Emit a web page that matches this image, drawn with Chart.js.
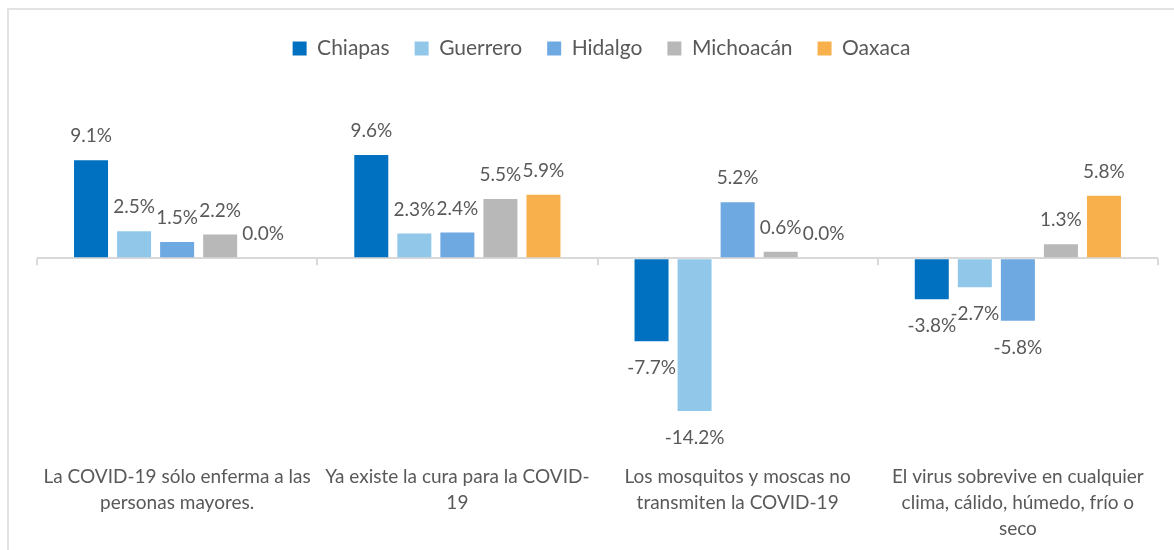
<!DOCTYPE html>
<html>
<head>
<meta charset="utf-8">
<script src="https://cdn.jsdelivr.net/npm/chart.js@4.4.0/dist/chart.umd.min.js"></script>
<style>
  body { margin: 0; overflow: hidden; background: #fff; }
  #frame { position: absolute; left: 7px; top: 8px; width: 1300px; height: 700px; border: 2px solid #e3e3e3; }
  #wrap { position: absolute; left: 0; top: 0; width: 1174px; height: 550px; }
</style>
</head>
<body>
<div id="frame"></div>
<div id="wrap"><canvas id="myChart" width="1174" height="550"></canvas></div>
<script>
var categories = [
    ["La COVID-19 sólo enferma a las", "personas mayores."],
    ["Ya existe la cura para la COVID-", "19"],
    ["Los mosquitos y moscas no", "transmiten la COVID-19"],
    ["El virus sobrevive en cualquier", "clima, cálido, húmedo, frío o", "seco"]
];
var states = ["Chiapas", "Guerrero", "Hidalgo", "Michoacán", "Oaxaca"];
var colors = ['#0070C0', '#91C8EA', '#6EA9E2', '#B8B8B8', '#F8B04D'];

var chiapas   = [9.1, 9.6, -7.7, -3.8];
var guerrero  = [2.5, 2.3, -14.2, -2.7];
var hidalgo   = [1.5, 2.4, 5.2, -5.8];
var michoacan = [2.2, 5.5, 0.6, 1.3];
var oaxaca    = [0.0, 5.9, 0.0, 5.8];

var values = [chiapas, guerrero, hidalgo, michoacan, oaxaca];

var datasets = states.map(function(name, i){
    return {
        label: name,
        data: values[i],
        backgroundColor: colors[i],
        categoryPercentage: 0.768,
        barPercentage: 0.79
    };
});

// labels on the bars + little ticks on the zero line
var barLabels = {
    id: 'barLabels',
    beforeInit: function(chart){
        var fit = chart.legend.fit;
        chart.legend.fit = function(){
            fit.call(chart.legend);
            this.height = 86;
        };
    },
    afterLayout: function(chart){
        chart.legend.top += 13;
        chart.legend.bottom += 13;
        chart.legend.left += 4;
        chart.legend.right += 4;
    },
    afterDatasetsDraw: function(chart){
        var ctx = chart.ctx;
        var xs = chart.scales.x, ys = chart.scales.y;
        var zero = ys.getPixelForValue(0);
        var half = (xs.getPixelForValue(1) - xs.getPixelForValue(0)) / 2;
        ctx.save();
        ctx.strokeStyle = '#d9d9d9';
        ctx.lineWidth = 2;
        for (var c = 0; c <= categories.length; c++) {
            var x = Math.round(xs.getPixelForValue(0) - half + c * half * 2);
            ctx.beginPath();
            ctx.moveTo(x, zero);
            ctx.lineTo(x, zero + 7);
            ctx.stroke();
        }
        ctx.font = '19px Lato';
        ctx.fillStyle = '#595959';
        ctx.textAlign = 'center';
        ctx.textBaseline = 'middle';
        chart.data.datasets.forEach(function(ds, i){
            var meta = chart.getDatasetMeta(i);
            meta.data.forEach(function(bar, j){
                var v = ds.data[j];
                var y = v >= 0 ? bar.y - 24 : bar.y + 27;
                ctx.fillText(v.toFixed(1) + '%', bar.x, y);
            });
        });
        ctx.restore();
    }
};

var ctx = document.getElementById('myChart').getContext('2d');
var chart = new Chart(ctx, {
    type: 'bar',
    data: { labels: categories, datasets: datasets },
    plugins: [barLabels],
    options: {
        responsive: false,
        animation: false,
        layout: { padding: { left: 37, right: 16, top: 0, bottom: 0 } },
        plugins: {
            legend: {
                position: 'top',
                labels: {
                    boxWidth: 14,
                    boxHeight: 14,
                    padding: 25,
                    color: '#595959',
                    font: { family: 'Lato', size: 21 }
                }
            },
            tooltip: { enabled: false }
        },
        scales: {
            x: {
                grid: { display: false, drawTicks: false },
                border: { display: false },
                afterFit: function(scale){
                    scale.height = 119.5;
                    scale.paddingLeft = 0;
                    scale.paddingRight = 0;
                },
                ticks: {
                    color: '#595959',
                    maxRotation: 0,
                    autoSkip: false,
                    padding: 33,
                    font: { family: 'Lato', size: 19, lineHeight: 1.37 }
                }
            },
            y: {
                min: -16,
                max: 16,
                ticks: { display: false, stepSize: 4 },
                border: { display: false },
                grid: {
                    drawTicks: false,
                    lineWidth: 2,
                    color: function(c){ return c.tick && c.tick.value === 0 ? '#d9d9d9' : 'rgba(0,0,0,0)'; }
                }
            }
        }
    }
});
</script>
</body>
</html>
